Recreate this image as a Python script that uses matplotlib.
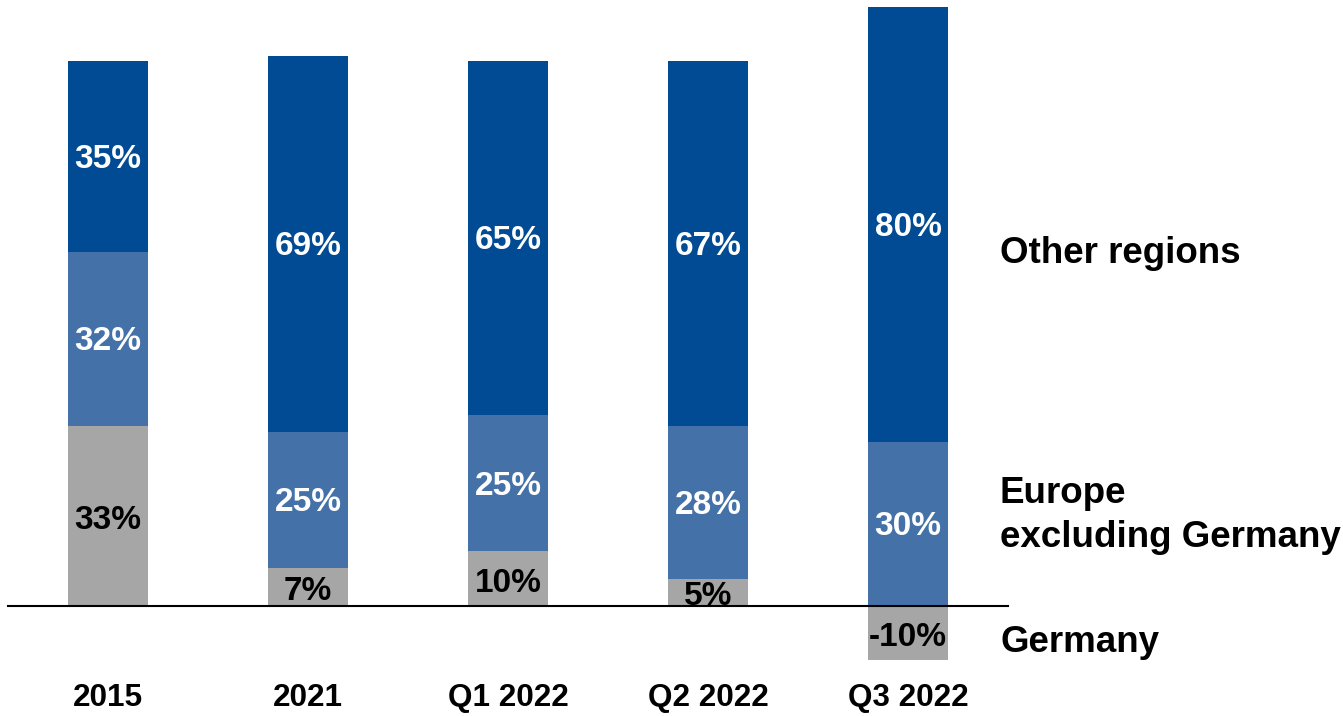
import matplotlib
matplotlib.use("Agg")
import matplotlib.pyplot as plt

categories = ["2015", "2021", "Q1 2022", "Q2 2022", "Q3 2022"]
germany = [33, 7, 10, 5, -10]
europe_ex_de = [32, 25, 25, 28, 30]
other_regions = [35, 69, 65, 67, 80]
series_names = ["Germany", "Europe\nexcluding Germany", "Other regions"]

c_gray = "#a6a6a6"
c_mid = "#4472a8"
c_dark = "#004b93"

plt.rcParams["font.family"] = ["Liberation Sans", "DejaVu Sans"]

fig = plt.figure(figsize=(13.43, 7.16), dpi=100)
ax = fig.add_axes([0, 0, 1, 1])
ax.set_xlim(-0.54, 6.175)
ax.set_ylim(-20.2, 111.2)
ax.axis("off")

x = list(range(len(categories)))
w = 0.4

# germany can be negative, stack the rest on top of max(germany, 0)
base1 = [max(g, 0) for g in germany]
base2 = [b + e for b, e in zip(base1, europe_ex_de)]

ax.bar(x, germany, w, color=c_gray)
ax.bar(x, europe_ex_de, w, bottom=base1, color=c_mid)
ax.bar(x, other_regions, w, bottom=base2, color=c_dark)

fs = 24
off = -0.5
for i in x:
    g = germany[i]
    ax.text(i, g / 2 + off - 0.3, f"{g}%", ha="center", va="center", fontsize=fs,
            fontweight="bold", color="black")
    ax.text(i, base1[i] + europe_ex_de[i] / 2 + off, f"{europe_ex_de[i]}%", ha="center",
            va="center", fontsize=fs, fontweight="bold", color="white")
    ax.text(i, base2[i] + other_regions[i] / 2 + off, f"{other_regions[i]}%", ha="center",
            va="center", fontsize=fs, fontweight="bold", color="white")
    ax.text(i, -16.9, categories[i], ha="center", va="center", fontsize=22.7,
            fontweight="bold")

ax.plot([-0.5, 4.5], [0, 0], color="black", lw=1.5)

rs = 26.5
ax.text(4.46, 64.6, series_names[2], ha="left", va="center", fontsize=rs, fontweight="bold")
ax.text(4.46, 16.6, series_names[1], ha="left", va="center", fontsize=rs,
        fontweight="bold", linespacing=1.33)
ax.text(4.46, -6.8, series_names[0], ha="left", va="center", fontsize=rs, fontweight="bold")

plt.savefig("out.png", dpi=100)
